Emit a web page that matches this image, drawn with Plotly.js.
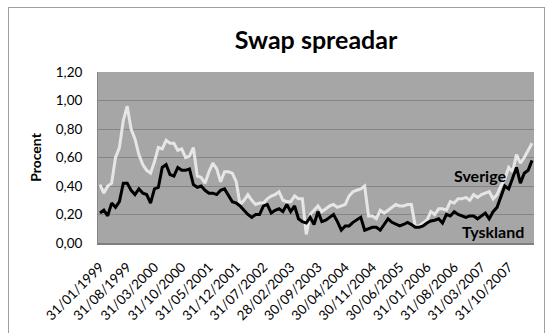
<!DOCTYPE html>
<html>
<head>
<meta charset="utf-8">
<script src="https://cdn.plot.ly/plotly-3.0.1.min.js"></script>
<style>
  html, body { margin: 0; padding: 0; background: #ffffff; }
  #wrap { position: relative; width: 553px; height: 333px; overflow: hidden; }
  #chart { width: 553px; height: 333px; }
  #frame { position: absolute; left: 8px; top: 7px; width: 537px; height: 340px;
           border: 1px solid #a0a0a0; pointer-events: none; box-sizing: border-box; }
</style>
</head>
<body>
<div id="wrap"><div id="chart"></div><div id="frame"></div></div>
<script>
// Monthly observations, January 1999 to April 2008
const startYear = 1999;
const startMonth = 1;
const monthCount = 112;

const sverige = [
  0.41,0.35,0.40,0.42,0.60,0.67,0.86,0.96,0.80,0.73,
  0.62,0.55,0.51,0.49,0.57,0.67,0.66,0.72,0.70,0.70,
  0.65,0.66,0.60,0.61,0.67,0.47,0.46,0.42,0.50,0.56,
  0.52,0.43,0.50,0.50,0.49,0.43,0.27,0.30,0.34,0.30,
  0.27,0.28,0.28,0.31,0.33,0.34,0.36,0.30,0.29,0.29,
  0.33,0.31,0.31,0.06,0.20,0.23,0.26,0.22,0.24,0.26,
  0.27,0.25,0.26,0.27,0.33,0.36,0.37,0.38,0.40,0.19,
  0.19,0.17,0.23,0.21,0.23,0.25,0.27,0.26,0.26,0.27,
  0.27,0.12,0.12,0.14,0.16,0.22,0.20,0.24,0.24,0.23,
  0.29,0.28,0.31,0.31,0.32,0.30,0.34,0.32,0.34,0.35,
  0.36,0.31,0.34,0.40,0.45,0.53,0.50,0.62,0.56,0.60,
  0.65,0.70
];

const tyskland = [
  0.21,0.23,0.19,0.28,0.25,0.29,0.42,0.42,0.37,0.34,
  0.38,0.35,0.34,0.28,0.38,0.39,0.53,0.55,0.48,0.47,
  0.53,0.51,0.51,0.52,0.41,0.39,0.40,0.37,0.35,0.35,
  0.34,0.37,0.38,0.33,0.29,0.28,0.26,0.23,0.20,0.18,
  0.20,0.20,0.26,0.27,0.21,0.23,0.24,0.22,0.27,0.22,
  0.26,0.17,0.15,0.14,0.18,0.13,0.22,0.15,0.16,0.18,
  0.20,0.15,0.09,0.12,0.12,0.145,0.16,0.18,0.09,0.10,
  0.11,0.11,0.09,0.13,0.17,0.145,0.13,0.12,0.13,0.145,
  0.13,0.11,0.11,0.12,0.14,0.155,0.16,0.17,0.14,0.20,
  0.19,0.22,0.20,0.19,0.18,0.19,0.19,0.17,0.19,0.21,
  0.17,0.22,0.25,0.32,0.40,0.38,0.45,0.53,0.42,0.49,
  0.51,0.58
];

const tickLabels = [
  "31/01/1999","31/08/1999","31/03/2000","31/10/2000","31/05/2001","31/12/2001",
  "31/07/2002","28/02/2003","30/09/2003","30/04/2004","30/11/2004","30/06/2005",
  "31/01/2006","31/08/2006","31/03/2007","31/10/2007"
];

const yTickValues = [0, 0.2, 0.4, 0.6, 0.8, 1.0, 1.2];

// month-end category names (dd/mm/yyyy)
function pad(n) { return (n < 10 ? "0" : "") + n; }
const categories = [];
for (let k = 0; k < monthCount; k++) {
  const m0 = startMonth - 1 + k;
  const y = startYear + Math.floor(m0 / 12);
  const m = (m0 % 12) + 1;
  const last = new Date(Date.UTC(y, m, 0)).getUTCDate();
  categories.push(pad(last) + "/" + pad(m) + "/" + y);
}

const FONT = "Lato, 'Open Sans', sans-serif";

const traces = [
  { x: categories, y: sverige, type: "scatter", mode: "lines", name: "Sverige",
    line: { color: "#e6e6e6", width: 3 } },
  { x: categories, y: tyskland, type: "scatter", mode: "lines", name: "Tyskland",
    line: { color: "#000000", width: 3 } }
];

const layout = {
  width: 553, height: 333,
  margin: { l: 98, r: 19, t: 72, b: 90, pad: 0 },
  paper_bgcolor: "#ffffff",
  plot_bgcolor: "#a6a6a6",
  showlegend: false,
  separators: ", ",
  font: { family: FONT, color: "#000000", size: 13 },
  title: { text: "<b>Swap spreadar</b>", font: { family: FONT, size: 25, color: "#000000" },
           x: 0.5, xref: "paper", xanchor: "center", y: 0.88, yref: "container", yanchor: "middle" },
  xaxis: {
    type: "category",
    categoryorder: "array", categoryarray: categories,
    range: [-0.5, monthCount - 0.5],
    tickmode: "array", tickvals: tickLabels, ticktext: tickLabels,
    tickangle: -45, tickfont: { family: FONT, size: 13.5, color: "#000000" },
    ticklabelstandoff: 9,
    showgrid: false, zeroline: false,
    showline: true, linecolor: "#7f7f7f", linewidth: 2,
    ticks: "", automargin: false
  },
  yaxis: {
    range: [0, 1.2], tickmode: "array", tickvals: yTickValues, tickformat: ".2f",
    tickfont: { family: FONT, size: 13.5, color: "#000000" },
    showgrid: true, gridcolor: "#858585", gridwidth: 1,
    zeroline: false, showline: true, linecolor: "#858585", linewidth: 1,
    ticks: "", ticklabelstandoff: 12, automargin: false,
    title: { text: "<b>Procent</b>", font: { family: FONT, size: 14, color: "#000000" }, standoff: 10 }
  },
  annotations: [
    { text: "<b>Sverige</b>", xref: "paper", yref: "paper", x: 0.876, y: 0.395,
      xanchor: "center", yanchor: "middle", showarrow: false,
      font: { family: FONT, size: 16, color: "#000000" } },
    { text: "<b>Tyskland</b>", xref: "paper", yref: "paper", x: 0.906, y: 0.07,
      xanchor: "center", yanchor: "middle", showarrow: false,
      font: { family: FONT, size: 16, color: "#000000" } }
  ]
};

Plotly.newPlot("chart", traces, layout, { displayModeBar: false, staticPlot: true });
</script>
</body>
</html>
